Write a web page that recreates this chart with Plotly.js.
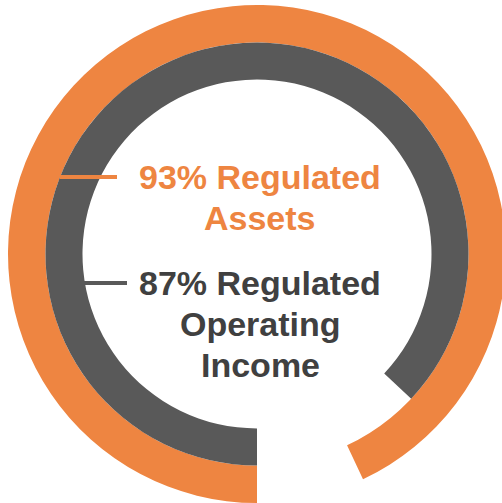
<!DOCTYPE html>
<html>
<head>
<meta charset="utf-8">
<script src="https://cdn.plot.ly/plotly-3.0.1.min.js"></script>
<style>
html,body{margin:0;padding:0;overflow:hidden;background:#fff;}
#chart{width:512px;height:503px;}
</style>
</head>
<body>
<div id="chart"></div>
<script>
// Data
const assetLabels = ["Regulated Assets", "Other"];
const assetValues = [93, 7];
const incomeLabels = ["Regulated Operating Income", "Other"];
const incomeValues = [87, 13];
const assetText = ["93% Regulated", "Assets"];
const incomeText = ["87% Regulated", "Operating", "Income"];

const ORANGE = "#EE8541";
const GRAY = "#595959";
const GRAYTEXT = "#404040";

const W = 512, H = 503;
const cx = 257, cy = 254;
const R1 = 249, R2 = 211.5, R3 = 174.5;
function dom(r){
  return {x:[(cx-r)/W,(cx+r)/W], y:[(H-(cy+r))/H,(H-(cy-r))/H]};
}

const traces = [
  {type:"pie", labels:assetLabels, values:assetValues, sort:false, direction:"clockwise", rotation:180,
   hole:R2/R1, domain:dom(R1), textinfo:"none", hoverinfo:"skip",
   marker:{colors:[ORANGE,"rgba(0,0,0,0)"], line:{width:0}}, showlegend:false},
  {type:"pie", labels:incomeLabels, values:incomeValues, sort:false, direction:"clockwise", rotation:180,
   hole:R3/R2, domain:dom(R2), textinfo:"none", hoverinfo:"skip",
   marker:{colors:[GRAY,"rgba(0,0,0,0)"], line:{width:0}}, showlegend:false}
];

const FS = 34;
const font = {family:"Liberation Sans, Arial, sans-serif", size:FS, weight:700};
const assetBase = [188.5, 230];
const incomeBase = [295, 335.5, 376.5];
const anns = [];
function addLines(lines, bases, color){
  lines.forEach((t,i)=>{
    anns.push({text:t, x:260/W, y:(H-(bases[i]-11.8))/H, xref:"paper", yref:"paper",
      xanchor:"center", yanchor:"middle", showarrow:false, font:Object.assign({},font,{color:color})});
  });
}
addLines(assetText, assetBase, ORANGE);
addLines(incomeText, incomeBase, GRAYTEXT);

const layout = {
  width:W, height:H, margin:{l:0,r:0,t:0,b:0},
  paper_bgcolor:"#fff", plot_bgcolor:"#fff", showlegend:false,
  annotations:anns,
  shapes:[
    {type:"line", xref:"paper", yref:"paper", x0:60/W, x1:117/W, y0:(H-177)/H, y1:(H-177)/H, line:{color:ORANGE,width:4}},
    {type:"line", xref:"paper", yref:"paper", x0:84/W, x1:127/W, y0:(H-283)/H, y1:(H-283)/H, line:{color:GRAY,width:4}}
  ]
};
Plotly.newPlot("chart", traces, layout, {displayModeBar:false, staticPlot:true});
</script>
</body>
</html>
